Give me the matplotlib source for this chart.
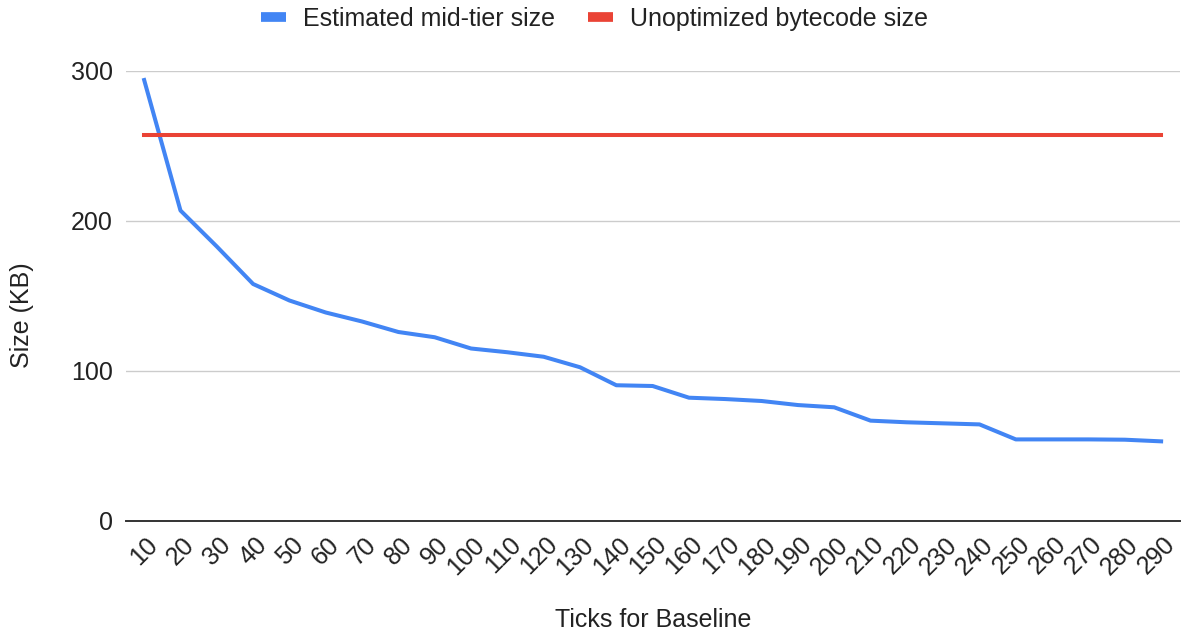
import matplotlib.pyplot as plt
import matplotlib.transforms as mtransforms

ticks = [10, 20, 30, 40, 50, 60, 70, 80, 90, 100, 110, 120, 130, 140, 150,
         160, 170, 180, 190, 200, 210, 220, 230, 240, 250, 260, 270, 280, 290]
mid_tier = [294, 207, 183, 158, 147, 139, 133, 126, 122.5, 115, 112.5, 109.5,
            102.5, 90.5, 90, 82.2, 81.3, 80, 77.3, 75.8, 66.9, 65.8, 65.1,
            64.4, 54.4, 54.4, 54.4, 54.2, 53.1]
bytecode = [257.3] * len(ticks)
y_ticks = [0, 100, 200, 300]

plt.rcParams["font.family"] = ["Liberation Sans", "DejaVu Sans"]
FS = 18

fig = plt.figure(figsize=(11.81, 6.37), dpi=100)
ax = fig.add_axes([126 / 1181, 1 - 521 / 637, (1180 - 126) / 1181, (521 - 71) / 637])

ax.plot(ticks, mid_tier, color="#4285F4", linewidth=2.9, label="Estimated mid-tier size",
        solid_joinstyle="round", clip_on=False, zorder=3)
ax.plot(ticks, bytecode, color="#EA4335", linewidth=2.9, label="Unoptimized bytecode size",
        clip_on=False, zorder=3)

ax.set_xlim(5, 295.2)
ax.set_ylim(0, 300)
ax.set_yticks(y_ticks)
ax.set_xticks(ticks)
ax.set_xticklabels([])

# rotated x labels sit a bit right of and below each tick, like google charts
lbl_tr = mtransforms.blended_transform_factory(ax.transData, ax.transAxes) + \
    mtransforms.ScaledTranslation(10 / 100, -20 / 100, fig.dpi_scale_trans)
for t in ticks:
    ax.text(t, 0, str(t), transform=lbl_tr, rotation=45, ha="right", va="center",
            rotation_mode="anchor", fontsize=FS, color="#222222")

ax.grid(axis="y", color="#cccccc", linewidth=1.0)
ax.set_axisbelow(True)
for side in ["top", "right", "left"]:
    ax.spines[side].set_visible(False)
ax.spines["bottom"].set_color("#333333")
ax.spines["bottom"].set_linewidth(1.4)
ax.spines["bottom"].set_zorder(2)
ax.tick_params(axis="both", length=0, labelsize=FS, colors="#222222")
ax.tick_params(axis="y", pad=9.5)

fig.text(653 / 1181, 1 - 620 / 637, "Ticks for Baseline", ha="center", va="center",
         fontsize=FS, color="#222222")
fig.text(22 / 1181, 1 - 315 / 637, "Size (KB)", ha="center", va="center",
         rotation=90, fontsize=FS, color="#222222")

leg = fig.legend(loc="center", bbox_to_anchor=(594.5 / 1181, 1 - 19 / 637), ncol=2,
                 frameon=False, fontsize=FS, handlelength=1.0, handletextpad=0.68,
                 columnspacing=1.3, labelcolor="#222222")
for line in leg.get_lines():
    line.set_linewidth(7)
    line.set_solid_capstyle("butt")

fig.savefig("out.png", dpi=100)
